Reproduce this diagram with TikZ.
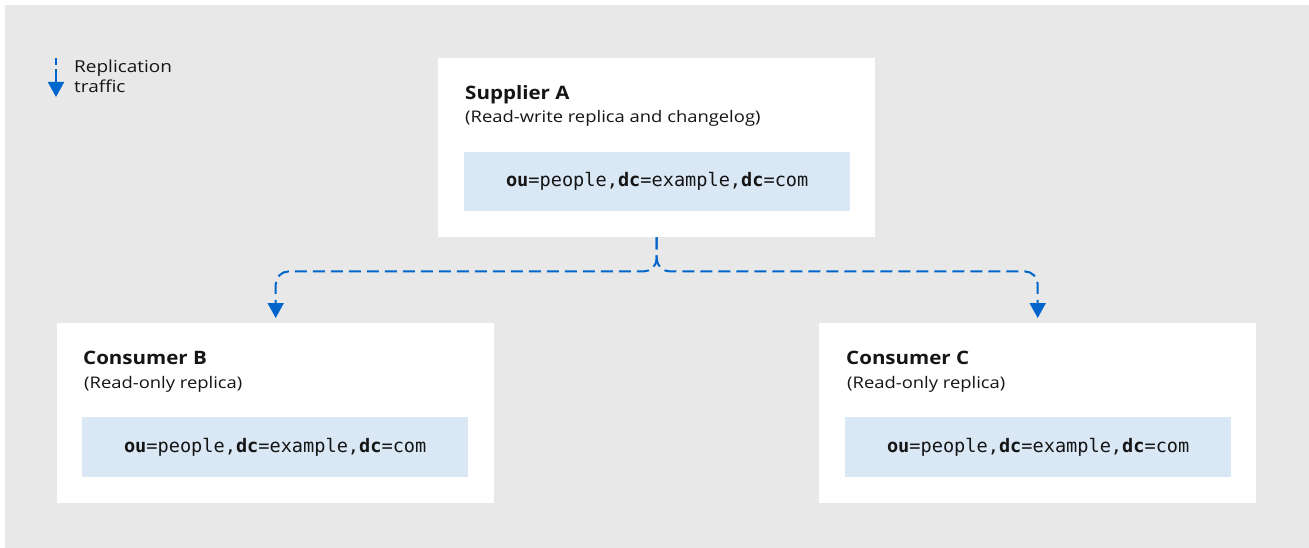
\documentclass[tikz,border=0pt]{standalone}
\usepackage{fontspec}
\setmainfont{Open Sans}
\setmonofont{DejaVu Sans Mono}
\newfontfamily\ttlfont{Open Sans}[FakeStretch=1.11]
\newfontfamily\subfont{Open Sans}[FakeStretch=1.15]
\usetikzlibrary{arrows.meta}
\definecolor{bg}{HTML}{E8E8E8}
\definecolor{dnblue}{HTML}{DAE8F6}
\definecolor{rblue}{HTML}{0066CC}
\definecolor{ink}{HTML}{151515}
\begin{document}
\begin{tikzpicture}[x=1pt,y=-1pt,
  server/.style={fill=white, draw=none, inner sep=0, anchor=north west, minimum width=437pt, minimum height=180pt},
  dnbox/.style={fill=dnblue, draw=none, inner sep=0, anchor=north west, minimum width=386pt, minimum height=60pt,
    font=\fontsize{18.6}{22}\selectfont\ttfamily, text=ink},
  ttl/.style={anchor=base west, font=\ttlfont\fontsize{18.5}{20}\selectfont\bfseries, text=ink, inner sep=0},
  sub/.style={anchor=base west, font=\subfont\fontsize{16}{18}\selectfont, text=ink, inner sep=0},
  leg/.style={anchor=base west, font=\subfont\fontsize{16.5}{19}\selectfont, text=ink, inner sep=0},
  repl/.style={draw=rblue, line width=2pt, dash pattern=on 12pt off 6pt, rounded corners=13pt,
    -{Triangle[width=16pt,length=15pt]}, shorten >=5pt},
  tip/.style={-{Triangle[width=16pt,length=15pt]}}
]
\useasboundingbox (0,0) rectangle (1309,548);
\fill[bg] (5,5) rectangle (1309,548);

% servers
\node[server, minimum height=179pt] (A) at (438,58) {};
\node[server] (B) at (57,323) {};
\node[server] (C) at (819,323) {};

% DN boxes
\node[dnbox, minimum height=59pt] (Adn) at (464,152) {\textbf{ou}=people,\textbf{dc}=example,\textbf{dc}=com};
\node[dnbox] (Bdn) at (82,417) {\textbf{ou}=people,\textbf{dc}=example,\textbf{dc}=com};
\node[dnbox] (Cdn) at (845,417) {\textbf{ou}=people,\textbf{dc}=example,\textbf{dc}=com};

% titles
\node[ttl] (At) at (465,99.5) {Supplier A};
\node[sub] (As) at (465,123) {(Read-write replica and changelog)};
\node[ttl] (Bt) at (83,364.5) {Consumer B};
\node[sub] (Bs) at (84,388) {(Read-only replica)};
\node[ttl] (Ct) at (846,364.5) {Consumer C};
\node[sub] (Cs) at (847,388) {(Read-only replica)};

% replication connectors
\draw[repl] (A.south) -- ++(0,34) -| (B.north);
\draw[repl] (A.south) -- ++(0,34) -| (C.north);

% legend
\coordinate (l1) at (56,58);
\coordinate (l2) at (56,65);
\coordinate (l3) at (56,69);
\coordinate (l4) at (56,97);
\draw[rblue, line width=2pt] (l1) -- (l2);
\draw[rblue, line width=2pt, tip] (l3) -- (l4);
\node[leg] (lg1) at (74,73) {Replication};
\node[leg] (lg2) at (74,93) {traffic};
\end{tikzpicture}
\end{document}
